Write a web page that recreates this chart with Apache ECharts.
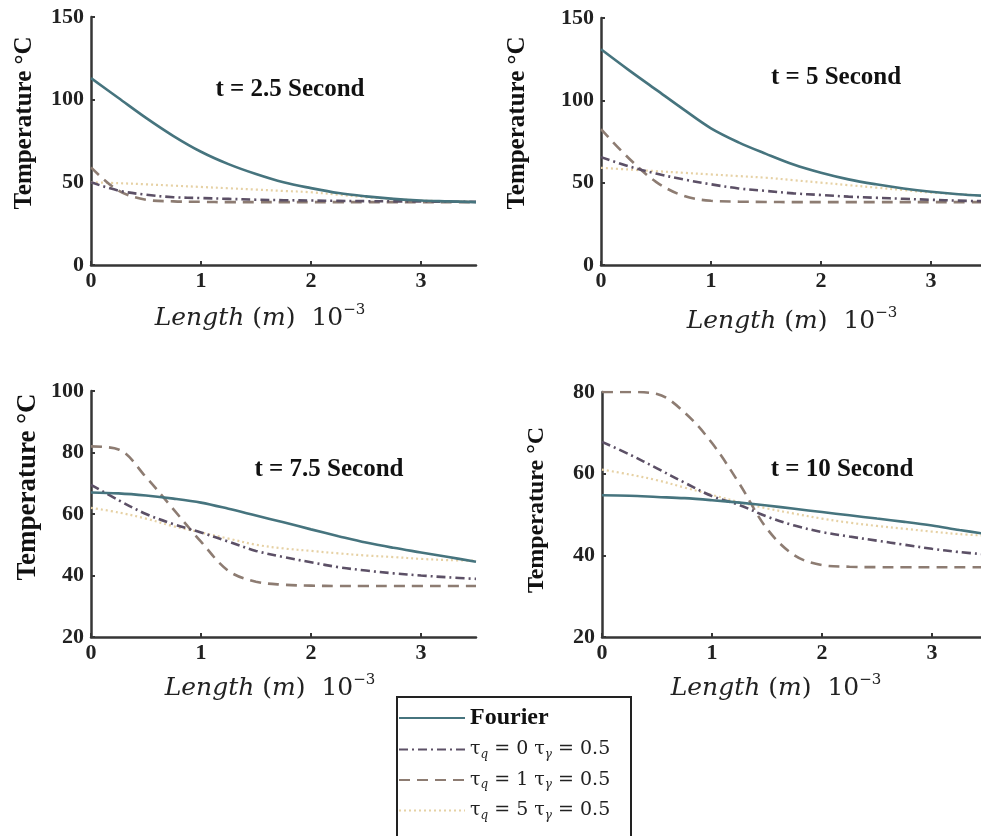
<!DOCTYPE html>
<html>
<head>
<meta charset="utf-8">
<script src="https://cdn.jsdelivr.net/npm/echarts@6/dist/echarts.min.js"></script>
<style>
html, body { margin: 0; padding: 0; background: #ffffff; }
#chart { width: 981px; height: 836px; }
</style>
</head>
<body>
<div id="chart"></div>
<script>
// Position along the rod (x 10^-3 m)
const lengthValues = [0, 0.25, 0.5, 0.75, 1, 1.25, 1.5, 1.75, 2, 2.25, 2.5, 2.75, 3, 3.25, 3.5];
const xTickLabels = ['0', '1', '2', '3'];

const seriesNames = ['Fourier', 'τq = 0 τγ = 0.5', 'τq = 1 τγ = 0.5', 'τq = 5 τγ = 0.5'];
const panelTitles = ['t = 2.5 Second', 't = 5 Second', 't = 7.5 Second', 't = 10 Second'];

// t = 2.5 s
const fourierT25 = [113, 101, 89, 78, 68.5, 61, 55, 50, 46.5, 43.5, 41.5, 40, 39, 38.5, 38];
const tq0T25 = [50, 45, 42.5, 41, 40.5, 40, 39.5, 39.2, 39, 38.8, 38.6, 38.5, 38.4, 38.3, 38.2];
const tq1T25 = [59, 45, 39.5, 38.5, 38.2, 38, 38, 38, 38, 38, 38, 38, 38, 38, 38];
const tq5T25 = [50, 49.5, 48.8, 48, 47.2, 46.4, 45.6, 44.8, 44, 42.5, 41, 40, 39, 38.5, 38.2];

// t = 5 s
const fourierT5 = [131, 118.5, 106.5, 94.5, 83, 74.5, 67.5, 61, 56, 52, 49, 46.5, 44.5, 43, 42];
const tq0T5 = [65.5, 60, 55.5, 52, 49, 46.5, 45, 43.5, 42.5, 41.5, 40.8, 40.2, 39.6, 39.1, 38.7];
const tq1T5 = [82.5, 65, 50.5, 42, 39, 38.5, 38.3, 38.2, 38.2, 38.2, 38.2, 38.2, 38.2, 38.2, 38.2];
const tq5T5 = [59, 58, 57, 56, 55, 54, 53, 51.5, 50, 48.5, 47, 45.5, 44, 43, 42];

// t = 7.5 s
const fourierT75 = [67, 66.7, 66, 65, 63.7, 61.7, 59.5, 57.3, 55, 52.8, 50.7, 49, 47.5, 46, 44.5];
const tq0T75 = [69.5, 64.5, 60, 56.7, 54, 51, 48, 46, 44.3, 42.7, 41.6, 40.7, 40, 39.4, 38.9];
const tq1T75 = [82, 81, 72, 61.5, 51, 41.5, 38, 37, 36.7, 36.6, 36.6, 36.6, 36.6, 36.6, 36.6];
const tq5T75 = [62, 60.5, 58.5, 56, 54, 52, 50, 48.8, 48, 47.2, 46.5, 46, 45.4, 45, 44.8];

// t = 10 s
const fourierT10 = [54.7, 54.6, 54.3, 54, 53.5, 52.9, 52.2, 51.4, 50.6, 49.8, 49, 48.2, 47.3, 46.2, 45.2];
const tq0T10 = [67.8, 64.7, 61.3, 57.8, 54.5, 52.3, 49.5, 47.3, 45.7, 44.6, 43.6, 42.6, 41.6, 40.8, 40.2];
const tq1T10 = [80, 80, 79.5, 75, 67.5, 57.5, 46.5, 40, 37.6, 37.2, 37.1, 37.1, 37.1, 37.1, 37.1];
const tq5T10 = [61, 59.8, 58.4, 56.6, 54.8, 53, 51.5, 50.2, 49, 48, 47.2, 46.5, 45.8, 45.2, 44.8];

const panelSeries = [
  [fourierT25, tq0T25, tq1T25, tq5T25],
  [fourierT5, tq0T5, tq1T5, tq5T5],
  [fourierT75, tq0T75, tq1T75, tq5T75],
  [fourierT10, tq0T10, tq1T10, tq5T10]
];

// Temperature axis ranges per panel
const yMin = [0, 0, 20, 20];
const yMax = [150, 150, 100, 80];
const yStep = [50, 50, 20, 20];

const lineStyles = [
  { color: '#46747e', width: 2.6, type: 'solid' },
  { color: '#5c5066', width: 2.6, type: [9, 4, 2, 4] },
  { color: '#8d7c72', width: 2.6, type: [11, 7] },
  { color: '#e6d1a4', width: 2.2, type: [2, 3] }
];

const gridRects = [
  { left: 91, top: 17, width: 385, height: 248 },
  { left: 601, top: 18, width: 385, height: 247 },
  { left: 91, top: 391, width: 385, height: 246 },
  { left: 602, top: 392, width: 385, height: 245 }
];

const tickFont = { fontFamily: 'Liberation Serif', fontWeight: 'bold', fontSize: 22, color: '#222' };
const axisColor = '#363636';

const grids = gridRects.map(r => Object.assign({ outerBoundsMode: 'none' }, r));

const xAxes = gridRects.map((r, i) => ({
  type: 'value', gridIndex: i, min: 0, max: 3.5, interval: 1,
  axisLine: { show: true, onZero: false, lineStyle: { color: axisColor, width: 2.5 } },
  axisTick: { show: true, inside: true, length: 4, lineStyle: { color: axisColor, width: 2 } },
  axisLabel: Object.assign({
    margin: 5, showMaxLabel: false,
    formatter: v => (Number.isInteger(v) && xTickLabels.includes(String(v))) ? String(v) : ''
  }, tickFont),
  splitLine: { show: false }
}));

const yAxes = gridRects.map((r, i) => ({
  type: 'value', gridIndex: i, min: yMin[i], max: yMax[i], interval: yStep[i],
  axisLine: { show: true, onZero: false, lineStyle: { color: axisColor, width: 2.5 } },
  axisTick: { show: true, inside: true, length: 4, lineStyle: { color: axisColor, width: 2 } },
  axisLabel: Object.assign({ margin: 7 }, tickFont),
  splitLine: { show: false }
}));

const series = [];
panelSeries.forEach((group, i) => {
  group.forEach((values, s) => {
    series.push({
      type: 'line',
      name: seriesNames[s],
      xAxisIndex: i,
      yAxisIndex: i,
      data: lengthValues.map((x, k) => [x, values[k]]),
      smooth: 0.35,
      symbol: 'none',
      color: lineStyles[s].color,
      lineStyle: lineStyles[s],
      z: 10 - s,
      animation: false
    });
  });
});

const titleCenters = [[290, 90], [836, 78], [329, 470], [842, 470]];
const yNameCenters = [[25, 123, 25], [518, 123, 25], [28, 487, 27], [537, 510, 24]];
const xNameCenters = [[260, 318], [792, 321], [270, 688], [776, 688]];

const graphics = [
  {
    type: 'rect', z: 1,
    shape: { x: 397, y: 697, width: 234, height: 170 },
    style: { fill: '#ffffff', stroke: '#222222', lineWidth: 2 }
  }
];

titleCenters.forEach((c, i) => {
  graphics.push({
    type: 'text', x: c[0], y: c[1], z: 20,
    style: {
      text: panelTitles[i], fill: '#111',
      font: 'bold 25px "Liberation Serif"',
      align: 'center', verticalAlign: 'middle'
    }
  });
});

yNameCenters.forEach(c => {
  graphics.push({
    type: 'text', x: c[0], y: c[1], rotation: Math.PI / 2, z: 20,
    style: {
      text: 'Temperature °C', fill: '#111',
      font: 'bold ' + c[2] + 'px "Liberation Serif"',
      align: 'center', verticalAlign: 'middle'
    }
  });
});

xNameCenters.forEach(c => {
  graphics.push({
    type: 'text', x: c[0], y: c[1], z: 20,
    style: {
      text: '{i|Length}{p| (}{i|m}{p|)  10}{u|−3}',
      fill: '#222',
      align: 'center', verticalAlign: 'middle',
      rich: {
        i: { fontFamily: 'DejaVu Serif', fontStyle: 'italic', fontSize: 25, fill: '#222', lineHeight: 30 },
        p: { fontFamily: 'DejaVu Serif', fontSize: 25, fill: '#222', lineHeight: 30 },
        u: { fontFamily: 'DejaVu Serif', fontSize: 15, fill: '#222', lineHeight: 30, verticalAlign: 'top' }
      }
    }
  });
});

const chart = echarts.init(document.getElementById('chart'), null, { renderer: 'canvas' });
chart.setOption({
  backgroundColor: '#ffffff',
  animation: false,
  grid: grids,
  xAxis: xAxes,
  yAxis: yAxes,
  series: series,
  legend: {
    data: seriesNames,
    orient: 'vertical',
    left: 398, top: 706,
    itemWidth: 66, itemHeight: 16, itemGap: 10,
    padding: 0,
    z: 30,
    itemStyle: { opacity: 0 },
    formatter: function (name) {
      if (name === 'Fourier') return '{f|Fourier}';
      const q = name.match(/τq = (\d)/)[1];
      return '{m|τ}{s|q}{m| = ' + q + ' τ}{s|γ}{m| = 0.5}';
    },
    textStyle: {
      rich: {
        f: { fontFamily: 'Liberation Serif', fontWeight: 'bold', fontSize: 24, color: '#111', lineHeight: 22 },
        m: { fontFamily: 'DejaVu Serif', fontSize: 19, color: '#222', lineHeight: 22 },
        s: { fontFamily: 'DejaVu Serif', fontStyle: 'italic', fontSize: 12, color: '#222', lineHeight: 22, verticalAlign: 'bottom' }
      }
    }
  },
  graphic: graphics
});
</script>
</body>
</html>
